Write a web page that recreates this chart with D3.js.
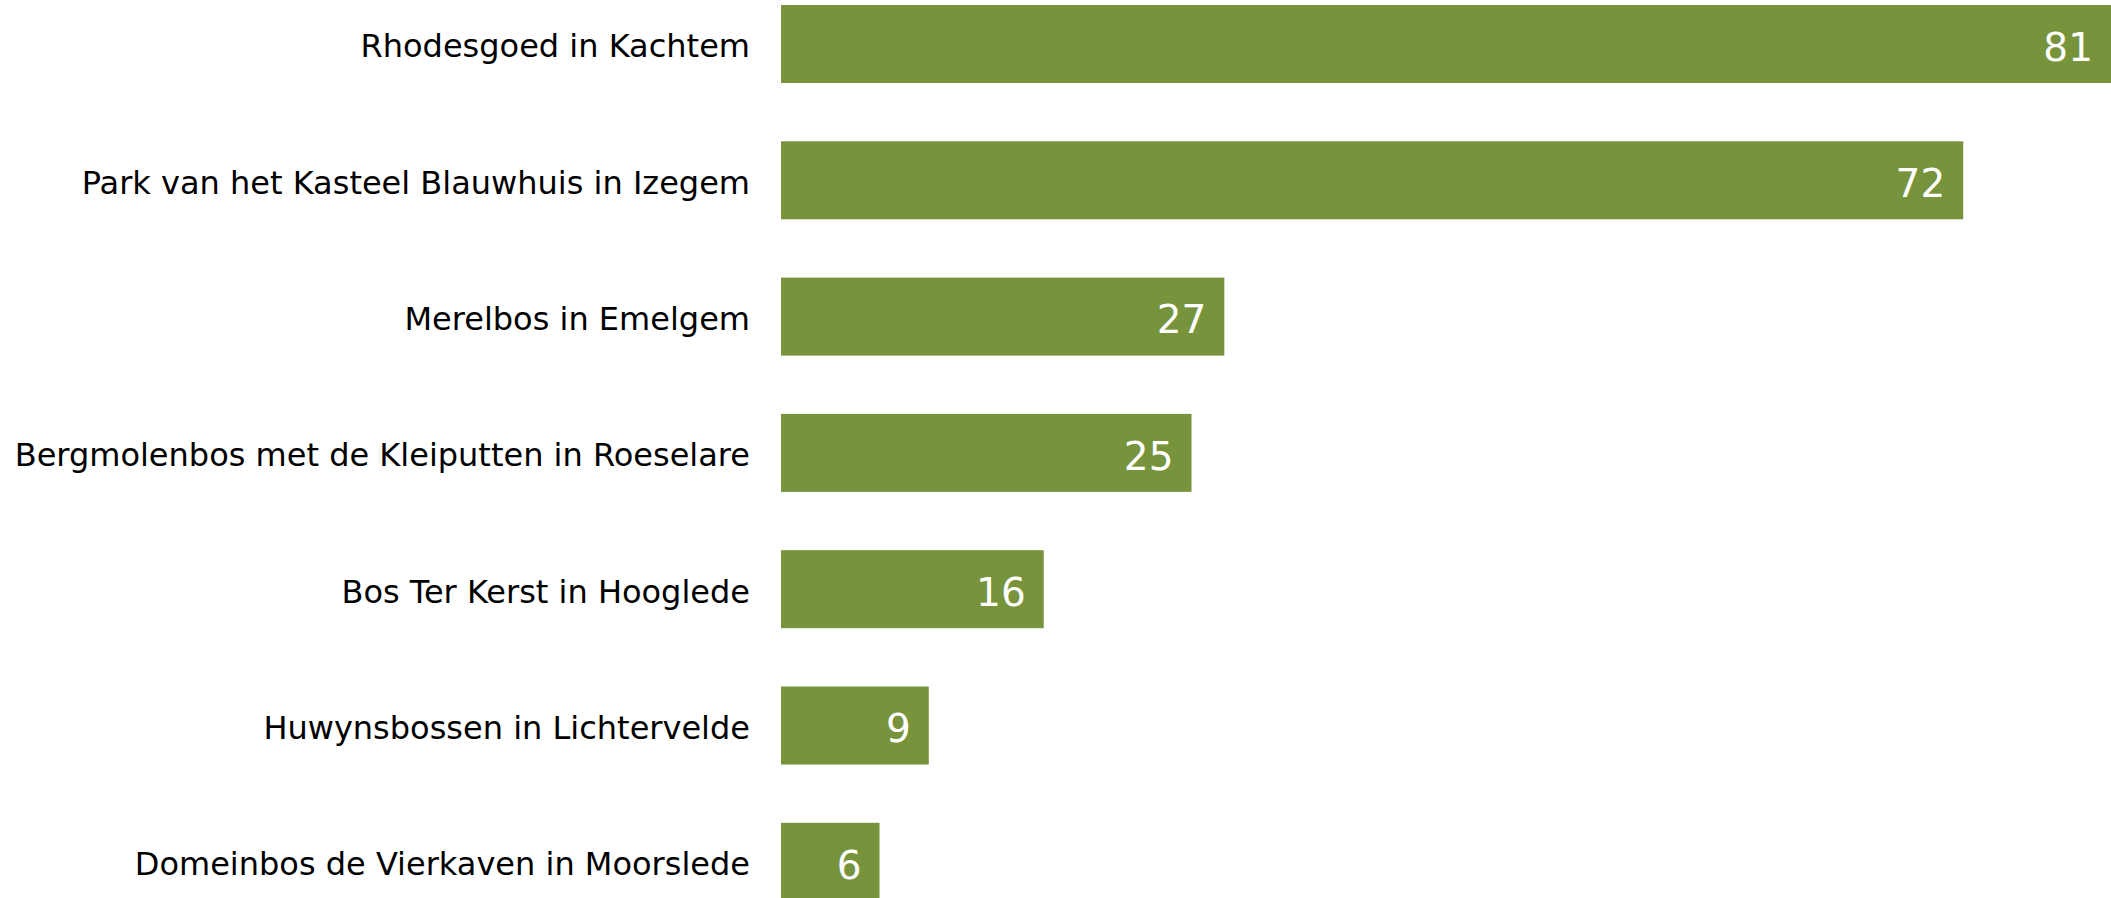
<!DOCTYPE html>
<html>
<head>
<meta charset="utf-8">
<script src="https://cdn.jsdelivr.net/npm/d3@7"></script>
<style>
  html, body { margin: 0; padding: 0; background: #fff; overflow: hidden; }
</style>
</head>
<body>
<div id="chart"></div>
<script>
(function(){
    "use strict";

    // data
    var categories = [
        "Rhodesgoed in Kachtem",
        "Park van het Kasteel Blauwhuis in Izegem",
        "Merelbos in Emelgem",
        "Bergmolenbos met de Kleiputten in Roeselare",
        "Bos Ter Kerst in Hooglede",
        "Huwynsbossen in Lichtervelde",
        "Domeinbos de Vierkaven in Moorslede"
    ];
    var values = [81, 72, 27, 25, 16, 9, 6];

    var width = 2111, height = 898;
    var barLeft = 781;
    var step = 136.3, barH = 78;

    var svg = d3.select("#chart").append("svg")
        .attr("width", width)
        .attr("height", height);

    // scales
    var x = d3.scaleLinear()
        .domain([0, 81])
        .range([barLeft, width]);

    // band: first bar top at y=5, bars 78px high every ~136px
    var y = d3.scaleBand()
        .domain(categories)
        .range([5, 5 + 6 * step + barH])
        .paddingInner(1 - barH / step)
        .paddingOuter(0);

    var font = "Verdana, 'DejaVu Sans', sans-serif";

    // bars
    svg.selectAll(".bar")
        .data(values)
        .enter().append("rect")
        .attr("class", "bar")
        .attr("x", x(0))
        .attr("y", function(d, i) { return y(categories[i]); })
        .attr("width", function(d) { return x(d) - x(0); })
        .attr("height", y.bandwidth())
        .attr("fill", "#77933c");

    // value labels inside the bars
    svg.selectAll(".val")
        .data(values)
        .enter().append("text")
        .attr("class", "val")
        .attr("x", function(d) { return x(d) - 18; })
        .attr("y", function(d, i) { return y(categories[i]) + y.bandwidth() / 2; })
        .attr("dy", "0.43em")
        .attr("text-anchor", "end")
        .attr("fill", "#ffffff")
        .style("font-family", font)
        .style("font-size", "39px")
        .text(function(d) { return d; });

    // category axis on the left
    var axis = svg.append("g")
        .attr("transform", "translate(" + barLeft + ",0)")
        .call(d3.axisLeft(y).tickSize(0).tickPadding(31));
    axis.select(".domain").remove();
    axis.selectAll("text")
        .attr("dy", "0.42em")
        .attr("fill", "#000")
        .style("font-family", font)
        .style("font-size", "32px");
})();
</script>
</body>
</html>
